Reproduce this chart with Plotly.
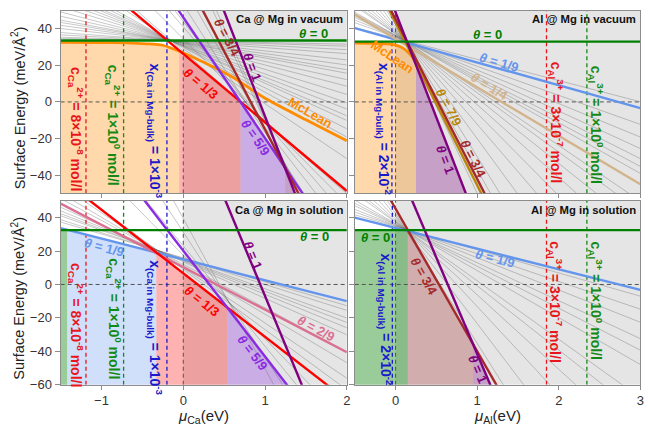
import numpy as np
import plotly.graph_objects as go

FONT = "Liberation Sans, Arial, Helvetica, sans-serif"
FRAME = "#8c8c8c"

# ---------------- axes ----------------
ca_mu_range = [-1.5, 2.0]
al_mu_range = [-0.5, 3.0]
vac_g_range = [-50, 50]
sol_g_range = [-60, 50]
ca_mu_ticks = [-1, 0, 1, 2]
al_mu_ticks = [0, 1, 2, 3]
vac_g_ticks = [-40, -20, 0, 20, 40]
sol_g_ticks = [-60, -40, -20, 0, 20, 40]

# ---------------- colours by coverage ----------------
theta_names = ["0", "1/9", "2/9", "1/4", "1/3", "5/9", "3/4", "7/9", "1", "McLean"]
theta_colors = ["#008000", "#6495ED", "#DB7093", "#D2B48C", "#FF0000",
                "#8A2BE2", "#A52A2A", "#B8860B", "#800080", "#FF8C00"]
fill_names = ["McLean", "0", "1/9", "1/3", "5/9", "3/4", "1"]
fill_colors = ["rgba(255,140,0,0.33)", "rgba(0,128,0,0.40)", "rgba(100,149,237,0.30)",
               "rgba(255,0,0,0.30)", "rgba(138,43,226,0.30)", "rgba(165,42,42,0.30)",
               "rgba(128,0,128,0.30)"]

# ---------------- Ca @ Mg in vacuum ----------------
cav_theta = ["0", "1/3", "5/9", "3/4", "1"]
cav_b = [33.6, 26.3, 46.2, 70.4, 107.0]
cav_m = [0.0, -37.5, -66.0, -85.5, -115.0]
cav_gray_b = [33.4, 33.3, 33.2, 33.0, 32.8, 32.6, 32.4, 32.3, 32.0, 31.8, 31.5, 31.1,
              30.9, 30.6, 30.5, 30.1, 29.8, 29.0, 27.8, 34.5, 41.0, 44.0, 53.2, 63.1,
              84.3, 90.5]
cav_gray_m = [-0.9, -1.4, -2.3, -3.3, -4.9, -6.2, -7.4, -8.3, -9.9, -11.6, -13.7, -15.8,
              -17.4, -19.1, -20.3, -22.4, -24.5, -30.0, -39.0, -45.0, -52.0, -58.0, -70.0,
              -78.0, -95.0, -100.0]
cav_mclean_mu = [-1.5, -1.0, -0.7, -0.45, -0.25, 0.0, 0.3, 0.6, 1.0, 1.5, 2.0]
cav_mclean_g = [32.6, 32.5, 32.3, 31.8, 31.0, 26.8, 20.6, 13.6, 2.0, -9.8, -21.2]
cav_phase = ["McLean", "1/3", "5/9", "1"]
cav_phase_lo = [-1.5, -0.05, 0.70, 1.245]
cav_phase_hi = [-0.05, 0.70, 1.245, 1.40]
cav_conc_mu = [-1.19, -0.73, -0.20]

# ---------------- Al @ Mg in vacuum ----------------
alv_theta = ["0", "1/9", "1/4", "7/9", "3/4", "1"]
alv_b = [33.0, 34.1, 34.5, 43.3, 45.2, 49.0]
alv_m = [0.0, -12.5, -26.5, -88.9, -87.3, -115.0]
alv_gray_b = [34.9, 35.4, 35.7, 36.0, 36.2, 36.4, 36.5, 37.2, 37.4, 37.8, 38.3, 38.9,
              39.7, 40.8, 42.1, 43.0, 45.0]
alv_gray_m = [-11.6, -15.9, -18.3, -20.5, -22.4, -23.9, -25.2, -30.5, -32.4, -35.7, -39.8,
              -45.1, -51.9, -60.9, -72.0, -80.0, -95.0]
alv_mclean_mu = [-0.5, -0.25, -0.1, 0.0, 0.08, 0.15, 0.22, 0.3]
alv_mclean_g = [32.2, 32.1, 31.8, 31.1, 29.7, 27.3, 23.6, 15.5]
alv_phase = ["McLean", "1"]
alv_phase_lo = [-0.5, 0.25]
alv_phase_hi = [0.25, 0.90]
alv_conc_mu = [-0.045, 1.85, 2.345]

# ---------------- Ca @ Mg in solution ----------------
cas_theta = ["0", "1/9", "2/9", "1/3", "5/9", "1"]
cas_b = [32.5, 15.0, 10.3, 6.7, 20.2, 111.0]
cas_m = [0.0, -12.5, -25.4, -38.0, -63.3, -118.0]
cas_gray_b = [15.9, 15.5, 14.9, 14.5, 14.1, 13.5, 12.1, 11.2, 9.9, 9.0, 17.5, 23.0, 31.3, 39.5]
cas_gray_m = [-14.3, -15.5, -17.5, -18.6, -20.0, -21.8, -26.2, -29.0, -33.0, -36.0,
              -50.0, -60.0, -75.0, -90.0]
cas_phase = ["0", "1/9", "1/3", "5/9"]
cas_phase_lo = [-1.5, -1.42, -0.33, 0.535]
cas_phase_hi = [-1.42, -0.33, 0.535, 1.30]
cas_conc_mu = [-1.19, -0.73, -0.20]

# ---------------- Al @ Mg in solution ----------------
als_theta = ["0", "1/9", "3/4", "1"]
als_b = [32.5, 33.8, 45.3, 73.5]
als_m = [0.0, -12.36, -85.3, -115.0]
als_gray_b = [34.7, 35.0, 35.3, 35.7, 36.0, 36.4, 37.2, 37.6, 38.3, 39.3, 40.7, 42.3]
als_gray_m = [-13.9, -16.6, -19.3, -22.7, -25.1, -28.1, -35.0, -38.4, -44.5, -52.5,
              -64.1, -77.5]
als_phase = ["0", "3/4", "1"]
als_phase_lo = [-0.5, 0.15, 0.95]
als_phase_hi = [0.15, 0.95, 1.20]
als_conc_mu = [-0.04, 1.85, 2.345]

# ---------------- texts ----------------
ca_conc_text = ["c<sub>Ca</sub><sup>2+</sup> = 8×10<sup>-8</sup> mol/l",
                "c<sub>Ca</sub><sup>2+</sup> = 1×10<sup>0</sup> mol/l",
                "x<sub>(Ca in Mg-bulk)</sub> = 1×10<sup>-3</sup>"]
al_conc_text = ["x<sub>(Al in Mg-bulk)</sub> = 2×10<sup>-2</sup>",
                "c<sub>Al</sub><sup>3+</sup> = 3×10<sup>-7</sup> mol/l",
                "c<sub>Al</sub><sup>3+</sup> = 1×10<sup>0</sup> mol/l"]
ca_conc_colors = ["#e8151b", "#138a13", "#1a1acc"]
al_conc_colors = ["#1a1acc", "#e8151b", "#138a13"]
panel_titles = ["Ca @ Mg in vacuum", "Al @ Mg in vacuum", "Ca @ Mg in solution", "Al @ Mg in solution"]

fig = go.Figure()

def col(name):
    return theta_colors[theta_names.index(name)]

def fcol(name):
    return fill_colors[fill_names.index(name)]

panels = [
    dict(xa="x", ya="y", xr=ca_mu_range, yr=vac_g_range, theta=cav_theta, b=cav_b, m=cav_m,
         gb=cav_gray_b, gm=cav_gray_m, mc=(cav_mclean_mu, cav_mclean_g),
         ph=(cav_phase, cav_phase_lo, cav_phase_hi), conc=cav_conc_mu,
         ctext=ca_conc_text, ccol=ca_conc_colors),
    dict(xa="x2", ya="y2", xr=al_mu_range, yr=vac_g_range, theta=alv_theta, b=alv_b, m=alv_m,
         gb=alv_gray_b, gm=alv_gray_m, mc=(alv_mclean_mu, alv_mclean_g),
         ph=(alv_phase, alv_phase_lo, alv_phase_hi), conc=alv_conc_mu,
         ctext=al_conc_text, ccol=al_conc_colors),
    dict(xa="x3", ya="y3", xr=ca_mu_range, yr=sol_g_range, theta=cas_theta, b=cas_b, m=cas_m,
         gb=cas_gray_b, gm=cas_gray_m, mc=None,
         ph=(cas_phase, cas_phase_lo, cas_phase_hi), conc=cas_conc_mu,
         ctext=ca_conc_text, ccol=ca_conc_colors),
    dict(xa="x4", ya="y4", xr=al_mu_range, yr=sol_g_range, theta=als_theta, b=als_b, m=als_m,
         gb=als_gray_b, gm=als_gray_m, mc=None,
         ph=(als_phase, als_phase_lo, als_phase_hi), conc=als_conc_mu,
         ctext=al_conc_text, ccol=al_conc_colors),
]

shapes = []
for p in panels:
    xa, ya = p["xa"], p["ya"]
    x0, x1 = p["xr"]
    y0, y1 = p["yr"]
    # grey region for mu > 0
    shapes.append(dict(type="rect", xref=xa, yref=ya, x0=0, x1=x1, y0=y0, y1=y1,
                       fillcolor="#e5e5e5", line=dict(width=0), layer="below"))
    # phase fills
    names, los, his = p["ph"]
    for nm, lo, hi in zip(names, los, his):
        if nm == "McLean":
            mu, g = p["mc"]
            xs = [lo] + [v for v in mu if lo < v < hi] + [hi]
            ys = list(np.interp(xs, mu, g))
        else:
            k = p["theta"].index(nm)
            xs = [lo, hi]
            ys = [p["b"][k] + p["m"][k] * lo, p["b"][k] + p["m"][k] * hi]
        fig.add_trace(go.Scatter(x=xs + [hi, lo], y=ys + [y0 - 20, y0 - 20], fill="toself",
                                 fillcolor=fcol(nm), line=dict(width=0), mode="lines",
                                 hoverinfo="skip", showlegend=False, xaxis=xa, yaxis=ya))
    # thin grey lines
    gx, gy = [], []
    for b, m in zip(p["gb"], p["gm"]):
        gx += [x0, x1, None]
        gy += [b + m * x0, b + m * x1, None]
    fig.add_trace(go.Scatter(x=gx, y=gy, mode="lines",
                             line=dict(color="rgba(110,110,110,0.55)", width=0.7),
                             hoverinfo="skip", showlegend=False, xaxis=xa, yaxis=ya))
    # dashed zero lines
    fig.add_trace(go.Scatter(x=[x0, x1, None, 0, 0], y=[0, 0, None, y0, y1], mode="lines",
                             line=dict(color="#555555", width=1, dash="4px,3px"),
                             hoverinfo="skip", showlegend=False, xaxis=xa, yaxis=ya))
    # concentration lines
    for v, c in zip(p["conc"], p["ccol"]):
        fig.add_trace(go.Scatter(x=[v, v], y=[y0, y1], mode="lines",
                                 line=dict(color=c, width=1.3, dash="4px,3px"),
                                 hoverinfo="skip", showlegend=False, xaxis=xa, yaxis=ya))
    # McLean
    if p["mc"] is not None:
        fig.add_trace(go.Scatter(x=p["mc"][0], y=p["mc"][1], mode="lines",
                                 line=dict(color=col("McLean"), width=2.8, shape="spline", smoothing=0.6),
                                 hoverinfo="skip", showlegend=False, xaxis=xa, yaxis=ya))
    # coverage lines (theta = 0 last so it sits on top)
    order = list(range(1, len(p["theta"]))) + [0]
    for k in order:
        nm = p["theta"][k]
        fig.add_trace(go.Scatter(x=[x0, x1], y=[p["b"][k] + p["m"][k] * x0, p["b"][k] + p["m"][k] * x1],
                                 mode="lines", line=dict(color=col(nm), width=2.4),
                                 hoverinfo="skip", showlegend=False, xaxis=xa, yaxis=ya))

# ---------------- annotations ----------------
ann = []

def th_label(xa, ya, name, x, y, ang, size=13):
    txt = "<b>McLean</b>" if name == "McLean" else "<b><i>θ</i> = %s</b>" % name
    ann.append(dict(xref=xa, yref=ya, x=x, y=y, text=txt, textangle=ang, showarrow=False,
                    xanchor="center", yanchor="middle",
                    font=dict(family=FONT, size=size, color=col(name))))

labels = [
    ("x", "y", [("0", 1.59, 37.3, 0), ("1/3", 0.214, 10.3, 40), ("3/4", 0.537, 35.4, 62),
                ("1", 0.85, 19.1, 69), ("5/9", 0.88, -19.7, 56), ("McLean", 1.55, -5.9, 30)]),
    ("x2", "y2", [("0", 1.13, 37.0, 0), ("1/9", 1.27, 21.7, 16), ("1/4", 1.15, 8.4, 31),
                  ("7/9", 0.656, -2.8, 62), ("3/4", 0.95, -31.0, 63), ("1", 0.61, -31.4, 69),
                  ("McLean", -0.045, 24.7, 34)]),
    ("x3", "y3", [("0", 1.6, 28.5, 0), ("1/9", -0.97, 21.9, 14.5), ("1/3", 0.234, -9.9, 38),
                  ("5/9", 0.84, -41.0, 52.6), ("1", 0.85, 17.3, 67.7), ("2/9", 1.62, -26.3, 27.7)]),
    ("x4", "y4", [("0", -0.245, 28.0, 0), ("1/9", 1.22, 15.7, 14.3), ("3/4", 0.352, 5.0, 60.5),
                  ("1", 1.01, -50.8, 67)]),
]
for xa, ya, lst in labels:
    for nm, x, y, a in lst:
        th_label(xa, ya, nm, x, y, a)

conc_pos = [
    ("x", "y", [(-1.32, -15.0), (-0.86, -13.0), (-0.35, -16.0)], 0),
    ("x2", "y2", [(-0.15, -15.0), (1.97, -11.5), (2.46, -12.6)], 1),
    ("x3", "y3", [(-1.32, -24.5), (-0.85, -20.7), (-0.35, -26.0)], 2),
    ("x4", "y4", [(-0.13, -21.5), (1.96, -10.9), (2.45, -9.9)], 3),
]
for xa, ya, pos, i in conc_pos:
    p = panels[i]
    for (x, y), t, c in zip(pos, p["ctext"], p["ccol"]):
        ann.append(dict(xref=xa, yref=ya, x=x, y=y, text="<b>" + t + "</b>", textangle=90,
                        showarrow=False, xanchor="center", yanchor="middle",
                        font=dict(family=FONT, size=14, color=c)))

for i, t in enumerate(panel_titles):
    sfx = "" if i == 0 else str(i + 1)
    ann.append(dict(xref="x%s domain" % sfx, yref="y%s domain" % sfx, x=0.993, y=0.995,
                    text="<b>%s</b>" % t, showarrow=False, xanchor="right", yanchor="top",
                    font=dict(family=FONT, size=11.3, color="#111111")))

for yy in [1 - 110 / 432, 1 - 304 / 432]:
    ann.append(dict(xref="paper", yref="paper", x=18.5 / 648, y=yy, textangle=-90,
                    text="Surface Energy (meV/Å<sup>2</sup>)", showarrow=False,
                    xanchor="center", yanchor="middle",
                    font=dict(family=FONT, size=14.5, color="#222222")))
for xx, t in [(205 / 648, "<i>μ</i><sub>Ca</sub>(eV)"), (500.5 / 648, "<i>μ</i><sub>Al</sub>(eV)")]:
    ann.append(dict(xref="paper", yref="paper", x=xx, y=1 - 424 / 432, text=t, showarrow=False,
                    xanchor="center", yanchor="middle", borderpad=0,
                    font=dict(family=FONT, size=15, color="#222222")))

# ---------------- layout ----------------
XL = [61 / 648, 349 / 648]
XR = [357 / 648, 644.3 / 648]
YT = [1 - 197 / 432, 1 - 10.7 / 432]
YB = [1 - 392 / 432, 1 - 204.7 / 432]

def xax(dom, rng, ticks, show, anchor):
    return dict(domain=dom, range=rng, tickvals=ticks, showticklabels=show, ticks="outside",
                ticklen=4, tickcolor=FRAME, tickwidth=1, showline=True, linecolor=FRAME,
                linewidth=1.2, mirror=True, showgrid=False, zeroline=False, anchor=anchor,
                tickfont=dict(family=FONT, size=13, color="#333333"))

def yax(dom, rng, ticks, show, anchor):
    return dict(domain=dom, range=rng, tickvals=ticks, showticklabels=show, ticks="outside",
                ticklen=5, tickcolor=FRAME, tickwidth=1, showline=True, linecolor=FRAME,
                linewidth=1.2, mirror=True, showgrid=False, zeroline=False, anchor=anchor,
                tickfont=dict(family=FONT, size=13, color="#333333"))

fig.update_layout(
    width=648, height=432, autosize=False,
    margin=dict(l=0, r=0, t=0, b=0),
    paper_bgcolor="white", plot_bgcolor="white",
    showlegend=False,
    xaxis=xax(XL, ca_mu_range, ca_mu_ticks, False, "y"),
    yaxis=yax(YT, vac_g_range, vac_g_ticks, True, "x"),
    xaxis2=xax(XR, al_mu_range, al_mu_ticks, False, "y2"),
    yaxis2=yax(YT, vac_g_range, vac_g_ticks, False, "x2"),
    xaxis3=xax(XL, ca_mu_range, ca_mu_ticks, True, "y3"),
    yaxis3=yax(YB, sol_g_range, sol_g_ticks, True, "x3"),
    xaxis4=xax(XR, al_mu_range, al_mu_ticks, True, "y4"),
    yaxis4=yax(YB, sol_g_range, sol_g_ticks, False, "x4"),
    shapes=shapes, annotations=ann,
    font=dict(family=FONT),
)

fig.write_html("out.html", config={"displayModeBar": False},
               post_script="document.body.style.margin='0px';document.body.style.overflow='hidden';")
